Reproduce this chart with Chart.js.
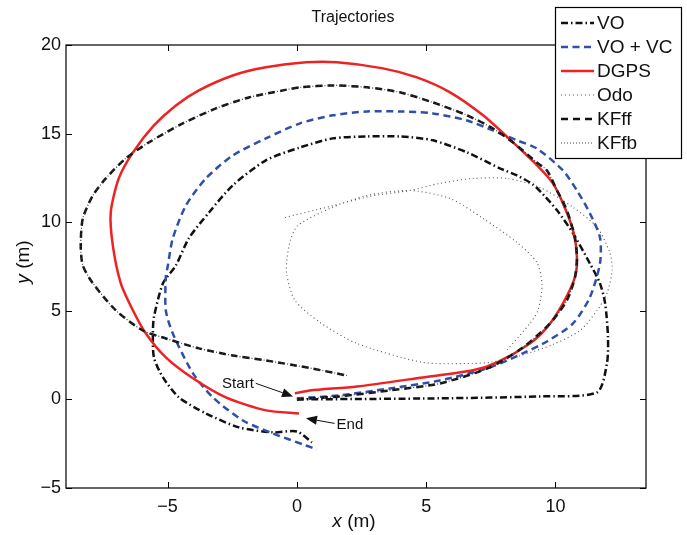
<!DOCTYPE html>
<html>
<head>
<meta charset="utf-8">
<script src="https://cdn.jsdelivr.net/npm/chart.js@4.4.0/dist/chart.umd.min.js"></script>
<style>
  html, body { margin: 0; padding: 0; background: #fff; }
</style>
</head>
<body>
<canvas id="chart" width="687" height="535"></canvas>
<script>
// axis ticks
const xTicks = [-5, 0, 5, 10];
const yTicks = [-5, 0, 5, 10, 15, 20];

// VO (dash-dot)
const voX = [0, 5.53, 9.40, 11.61, 11.99, 12.03, 11.92, 11.72, 11.33, 10.68, 10.06, 9.59, 9.13, 8.51, 7.85, 6.58, 5.26, 3.98, 2.71, 1.39, 0.12, -1.20, -2.48, -3.40, -4.18, -4.68, -5.18, -5.53, -5.57, -5.53, -5.18, -4.56, -3.52, -2.24, -0.93, 0, 0.58];
const voY = [0, 0.06, 0.17, 0.40, 2.03, 3.50, 5.42, 6.55, 7.67, 9.37, 10.67, 11.46, 12.13, 12.64, 13.04, 13.94, 14.62, 14.84, 14.84, 14.73, 14.22, 13.49, 12.08, 10.55, 9.09, 7.56, 6.55, 4.63, 3.72, 2.37, 1.24, 0.11, -0.79, -1.58, -1.86, -1.81, -2.43];

// VO + VC (blue dashed)
const vcX = [0, 1.66, 3.60, 5.53, 7.47, 8.74, 9.67, 10.68, 11.33, 11.72, 11.72, 11.33, 10.83, 10.29, 9.28, 8.51, 7.58, 6.58, 5.26, 3.98, 2.71, 1.39, 0.12, -1.20, -2.48, -3.52, -4.29, -4.80, -4.99, -5.07, -5.07, -4.80, -4.02, -3.25, -2.09, -0.93, 0.35, 0.77];
const vcY = [0.06, 0.23, 0.62, 1.07, 1.81, 2.60, 3.27, 4.29, 5.76, 7.67, 9.14, 10.50, 11.79, 12.92, 14.16, 14.62, 15.18, 15.74, 16.14, 16.25, 16.25, 16.03, 15.58, 14.73, 13.77, 12.47, 10.95, 9.09, 7.56, 6.88, 5.02, 3.72, 1.47, 0.11, -1.19, -1.92, -2.60, -2.82];

// DGPS (red)
const gpsX = [-0.08, 0.5, 2.32, 4.87, 6.81, 7.74, 9.01, 9.67, 10.29, 10.75, 10.83, 10.68, 10.29, 9.90, 9.40, 8.36, 7.20, 5.92, 4.64, 3.33, 1.55, 0.35, -1.20, -2.48, -3.79, -4.68, -5.53, -6.34, -6.89, -7.20, -7.12, -6.81, -6.34, -5.84, -5.07, -4.02, -2.75, -1.20, 0.08];
const gpsY = [0.34, 0.5, 0.73, 1.24, 1.64, 2.09, 3.16, 4.06, 5.42, 6.88, 8.01, 9.54, 11.06, 12.19, 13.04, 14.50, 16.03, 17.33, 18.17, 18.68, 19.02, 19.02, 18.74, 18.28, 17.44, 16.59, 15.46, 13.94, 12.47, 10.55, 8.69, 6.55, 5.02, 3.72, 2.37, 1.19, 0.11, -0.62, -0.79];

// Odo (fine dots)
const odoX = [-0.46, 1.28, 2.82, 4.37, 5.53, 6.81, 8.12, 9.40, 10.68, 11.61, 12.11, 12.19, 11.99, 11.61, 10.95, 9.90, 8.60, 7.50, 6.81, 4.87, 2.32, 0.89, -0.08, -0.39, -0.39, -0.25, 0.04, 1.28, 2.71, 4.37, 5.92, 7.20, 8.51, 9.28, 9.48, 9.32, 9.01, 8.12];
const odoY = [10.27, 10.89, 11.46, 11.79, 12.19, 12.47, 12.47, 11.96, 10.84, 9.71, 8.24, 7.28, 5.98, 5.02, 3.89, 3.10, 2.45, 2.10, 2.03, 2.09, 3.16, 4.35, 5.59, 7.00, 7.84, 9.00, 9.82, 10.78, 11.51, 11.79, 11.34, 10.21, 8.86, 7.73, 6.43, 5.02, 4.29, 2.77];

// KF feed-forward / feedback (the two filter outputs lie on top of each other)
const kfX = [0, 1.66, 3.60, 5.53, 7.47, 8.74, 9.79, 10.44, 10.75, 10.83, 10.75, 10.44, 10.06, 9.67, 9.28, 8.36, 7.58, 6.58, 5.26, 3.98, 2.71, 1.39, 0.12, -0.54, -1.86, -3.13, -4.41, -5.73, -6.62, -7.39, -7.89, -8.28, -8.36, -8.28, -7.89, -7.00, -5.96, -5.07, -3.79, -2.48, -1.20, 0.35, 1.93];
const kfY = [0, 0.17, 0.51, 0.90, 1.81, 2.93, 4.29, 5.59, 6.88, 8.01, 9.14, 10.67, 11.79, 12.92, 13.37, 14.50, 15.29, 16.03, 16.76, 17.33, 17.61, 17.72, 17.61, 17.44, 17.04, 16.42, 15.58, 14.50, 13.60, 12.47, 11.51, 10.21, 8.69, 7.56, 6.55, 5.02, 3.89, 3.44, 2.88, 2.48, 2.20, 1.81, 1.35];

// Start / End annotations: label position and arrow tip, in data units
const noteText = ['Start', 'End'];
const noteTextX = [-2.28, 2.05];
const noteTextY = [0.85, -1.41];
const noteTipX = [-0.15, 0.35];
const noteTipY = [0.17, -1.07];

const FONT = '"Liberation Sans", Arial, Helvetica, sans-serif';

function pts(xs, ys) {
  return xs.map((x, i) => ({ x: x, y: ys[i] }));
}

function line(label, xs, ys, color, width, dash, order) {
  return {
    label: label,
    data: pts(xs, ys),
    showLine: true,
    borderColor: color,
    borderWidth: width,
    borderDash: dash,
    pointRadius: 0,
    fill: false,
    tension: 0.25,
    order: order
  };
}

const datasets = [
  line('VO', voX, voY, '#111111', 2.5, [7, 3, 1.5, 3], 6),
  line('VO + VC', vcX, vcY, '#2f4fa8', 2.5, [7, 4.5], 5),
  line('DGPS', gpsX, gpsY, '#ee2222', 2.5, [], 4),
  line('Odo', odoX, odoY, '#555555', 1.1, [1, 3], 3),
  line('KFff', kfX, kfY, '#111111', 2.5, [7, 5], 2),
  line('KFfb', kfX, kfY, '#444444', 1.2, [1, 2], 1)
];

function fmt(v) {
  return String(v).replace('-', '\u2212');
}

function arrow(ctx, x0, y0, x1, y1) {
  const ang = Math.atan2(y1 - y0, x1 - x0);
  const len = 11, half = 4.5;
  const bx = x1 - Math.cos(ang) * len, by = y1 - Math.sin(ang) * len;
  ctx.beginPath();
  ctx.moveTo(x0, y0);
  ctx.lineTo(bx, by);
  ctx.lineWidth = 1;
  ctx.stroke();
  ctx.beginPath();
  ctx.moveTo(x1, y1);
  ctx.lineTo(bx + Math.sin(ang) * half, by - Math.cos(ang) * half);
  ctx.lineTo(bx - Math.sin(ang) * half, by + Math.cos(ang) * half);
  ctx.closePath();
  ctx.fill();
}

const framePlugin = {
  id: 'frame',
  afterDatasetsDraw(chart) {
    const ctx = chart.ctx;
    const a = chart.chartArea;
    const xs = chart.scales.x, ys = chart.scales.y;
    ctx.save();
    ctx.strokeStyle = '#000';
    ctx.lineWidth = 1.2;
    ctx.setLineDash([]);
    ctx.strokeRect(a.left, a.top, a.right - a.left, a.bottom - a.top);
    ctx.beginPath();
    xTicks.forEach(t => {
      const px = Math.round(xs.getPixelForValue(t)) + 0.5;
      ctx.moveTo(px, a.bottom); ctx.lineTo(px, a.bottom - 6);
      ctx.moveTo(px, a.top); ctx.lineTo(px, a.top + 6);
    });
    yTicks.forEach(t => {
      const py = Math.round(ys.getPixelForValue(t)) + 0.5;
      ctx.moveTo(a.left, py); ctx.lineTo(a.left + 6, py);
      ctx.moveTo(a.right, py); ctx.lineTo(a.right - 6, py);
    });
    ctx.lineWidth = 1;
    ctx.stroke();

    // Start / End notes
    ctx.fillStyle = '#111';
    ctx.strokeStyle = '#111';
    ctx.font = '15px ' + FONT;
    ctx.textAlign = 'center';
    ctx.textBaseline = 'middle';
    noteText.forEach((t, i) => {
      const tx = xs.getPixelForValue(noteTextX[i]);
      const ty = ys.getPixelForValue(noteTextY[i]);
      const w = ctx.measureText(t).width;
      ctx.fillText(t, tx, ty);
      const px = xs.getPixelForValue(noteTipX[i]);
      const py = ys.getPixelForValue(noteTipY[i]);
      const sx0 = px > tx ? tx + w / 2 + 2 : tx - w / 2 - 2;
      arrow(ctx, sx0, ty - 1, px, py);
    });

    // title
    ctx.fillStyle = '#111';
    ctx.textAlign = 'center';
    ctx.textBaseline = 'middle';
    ctx.font = '16px ' + FONT;
    ctx.fillText('Trajectories', (a.left + a.right) / 2 - 3, 18);

    // x axis label: italic x + " (m)"
    const rest = ' (m)';
    ctx.font = 'italic 19px ' + FONT;
    const wx = ctx.measureText('x').width;
    ctx.font = '19px ' + FONT;
    const wr = ctx.measureText(rest).width;
    let sx = (a.left + a.right) / 2 - 2 - (wx + wr) / 2;
    ctx.textAlign = 'left';
    ctx.font = 'italic 19px ' + FONT;
    ctx.fillText('x', sx, 522);
    ctx.font = '19px ' + FONT;
    ctx.fillText(rest, sx + wx, 522);

    // y axis label rotated
    ctx.save();
    ctx.translate(24, 262);
    ctx.rotate(-Math.PI / 2);
    ctx.font = 'italic 19px ' + FONT;
    const wy = ctx.measureText('y').width;
    sx = -(wy + wr) / 2;
    ctx.fillText('y', sx, 0);
    ctx.font = '19px ' + FONT;
    ctx.fillText(rest, sx + wy, 0);
    ctx.restore();

    // legend box
    const bx = 555, by = 7, bw = 126, bh = 151;
    ctx.fillStyle = '#fff';
    ctx.fillRect(bx, by, bw, bh);
    ctx.strokeStyle = '#000';
    ctx.lineWidth = 1.2;
    ctx.strokeRect(bx + 0.5, by + 0.5, bw, bh);
    ctx.font = '19px ' + FONT;
    ctx.textAlign = 'left';
    ctx.textBaseline = 'middle';
    chart.data.datasets.forEach((ds, i) => {
      const y = 23 + i * 24;
      ctx.beginPath();
      ctx.strokeStyle = ds.borderColor;
      ctx.lineWidth = ds.borderWidth;
      ctx.setLineDash(ds.borderDash);
      ctx.moveTo(561, y);
      ctx.lineTo(594, y);
      ctx.stroke();
      ctx.setLineDash([]);
      ctx.fillStyle = '#111';
      ctx.fillText(ds.label, 597, y + 1);
    });
    ctx.restore();
  }
};

new Chart(document.getElementById('chart'), {
  type: 'scatter',
  data: { datasets: datasets },
  options: {
    responsive: false,
    animation: false,
    layout: { padding: { top: 45, right: 41, left: 0, bottom: 0 } },
    plugins: { legend: { display: false }, tooltip: { enabled: false }, title: { display: false } },
    scales: {
      x: {
        type: 'linear',
        min: -8.93,
        max: 13.5,
        grid: { display: false, drawTicks: false },
        border: { display: false },
        afterBuildTicks: s => { s.ticks = xTicks.map(v => ({ value: v })); },
        afterFit: s => { s.height = 47; },
        ticks: { color: '#111', padding: 8, font: { family: FONT, size: 18 }, callback: v => fmt(v), maxRotation: 0 }
      },
      y: {
        type: 'linear',
        min: -5,
        max: 20,
        grid: { display: false, drawTicks: false },
        border: { display: false },
        afterBuildTicks: s => { s.ticks = yTicks.map(v => ({ value: v })); },
        afterFit: s => { s.width = 66; },
        ticks: { color: '#111', padding: 5, font: { family: FONT, size: 18 }, callback: v => fmt(v) }
      }
    }
  },
  plugins: [framePlugin]
});
</script>
</body>
</html>
